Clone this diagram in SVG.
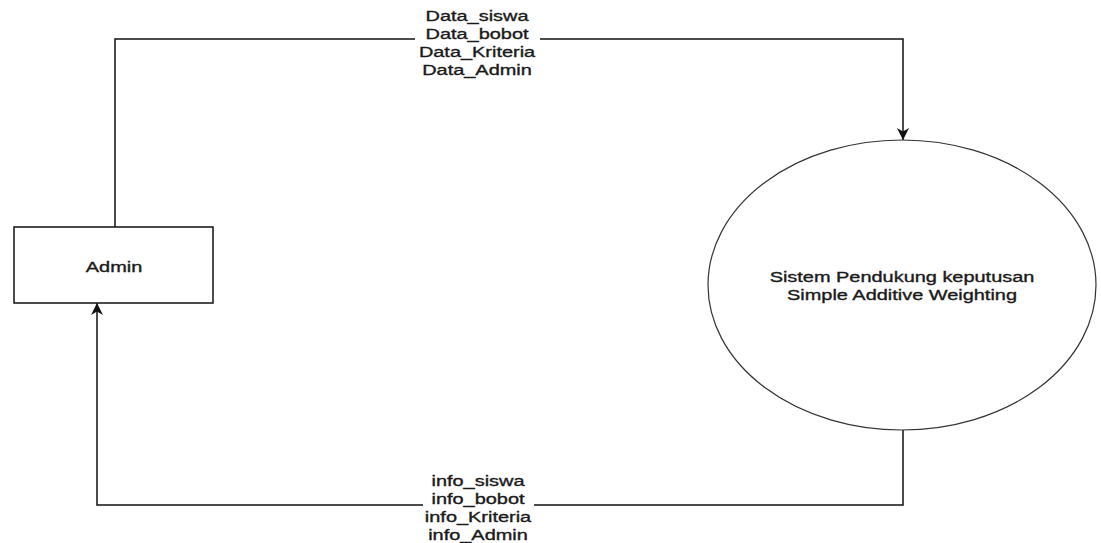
<svg xmlns="http://www.w3.org/2000/svg" width="1101" height="543" viewBox="0 0 1101 543">
<style>
.t{font-family:"Liberation Sans",Arial,sans-serif;font-size:15px;fill:#1a1a1a;stroke:#1a1a1a;stroke-width:0.35;text-anchor:middle}
.c{fill:none;stroke:#111;stroke-width:1.5}
</style>
<defs>
<marker id="arr" viewBox="0 0 10 10" refX="10" refY="5" markerWidth="12" markerHeight="12" markerUnits="userSpaceOnUse" orient="auto">
<path d="M0,0 L10,5 L0,10 L3,5 Z" fill="#111"/>
</marker>
</defs>
<rect width="1101" height="543" fill="#fff"/>
<g id="connectors">
<path class="c" d="M115,227 V39 H903 V140" marker-end="url(#arr)"/>
<path class="c" d="M903,430 V505 H97 V303" marker-end="url(#arr)"/>
<rect x="415" y="4" width="125" height="74" fill="#fff"/>
<rect x="423" y="472" width="111" height="71" fill="#fff"/>
<g transform="translate(477,0) scale(1.33,1)">
<text class="t" x="0" y="21">Data_siswa</text>
<text class="t" x="0" y="39">Data_bobot</text>
<text class="t" x="0" y="57">Data_Kriteria</text>
<text class="t" x="0" y="75">Data_Admin</text>
</g>
<g transform="translate(478,0) scale(1.33,1)">
<text class="t" x="0" y="486">info_siswa</text>
<text class="t" x="0" y="504">info_bobot</text>
<text class="t" x="0" y="522">info_Kriteria</text>
<text class="t" x="0" y="540">info_Admin</text>
</g>
</g>
<g id="admin">
<rect x="14" y="227" width="199" height="76" fill="#fff" stroke="#111" stroke-width="1.5"/>
<text class="t" transform="translate(114,272) scale(1.33,1)">Admin</text>
</g>
<g id="spk">
<ellipse cx="902" cy="285" rx="194" ry="145" fill="#fff" stroke="#333" stroke-width="1.2"/>
<text class="t" transform="translate(902,282) scale(1.33,1)">Sistem Pendukung keputusan</text>
<text class="t" transform="translate(902,300) scale(1.33,1)">Simple Additive Weighting</text>
</g>
</svg>
